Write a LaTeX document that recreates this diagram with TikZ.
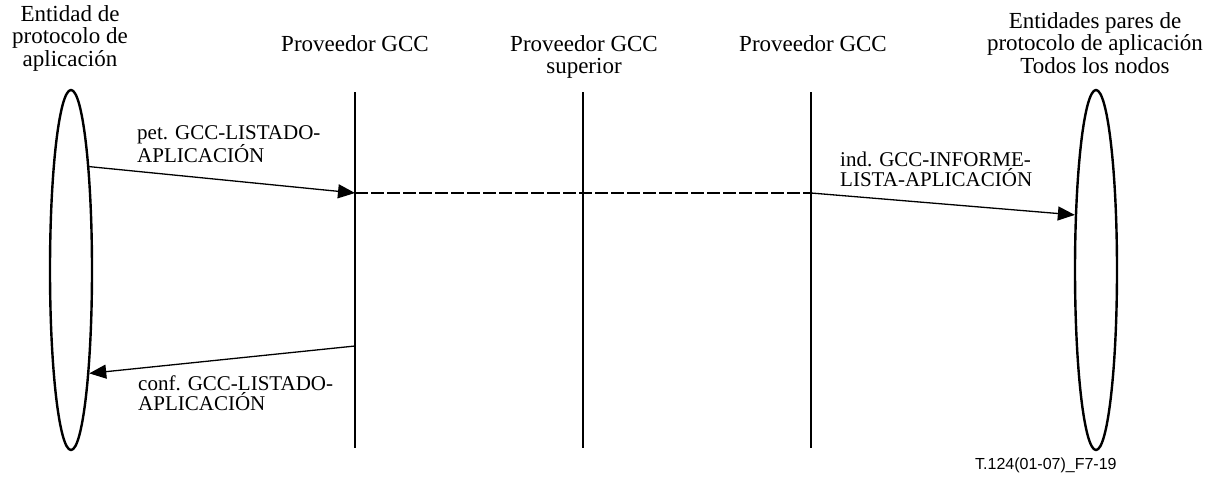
\documentclass[tikz,border=0pt]{standalone}
\usepackage{fontspec}
\setmainfont{Liberation Serif}
\newfontfamily\arialfont{Liberation Sans}
\usetikzlibrary{shapes.geometric,arrows.meta}
\begin{document}
\begin{tikzpicture}[x=1pt,y=-1pt,
  head/.style={font=\fontsize{23}{22.5}\selectfont, align=center, inner sep=0pt},
  msg/.style={font=\fontsize{21}{19.5}\selectfont, align=left, inner sep=0pt},
  entity/.style={ellipse, draw, line width=2.4pt, minimum width=42pt, minimum height=360pt, inner sep=0pt},
  lifeline/.style={line width=1.9pt},
  call/.style={line width=1.3pt, -{Triangle[length=17pt,width=14pt]}},
  relay/.style={line width=2.2pt, dash pattern=on 12.5pt off 3.5pt},
]
\useasboundingbox (0,0) rectangle (1211,480);

% entities at both ends
\node[entity] (src) at (71,270) {};
\node[entity] (dst) at (1096,270) {};

% headings
\node[head, anchor=north] (hsrc) at (70,5) {Entidad de\\protocolo de\\aplicación};
\node[head, anchor=north] (hp1) at (355,35) {Proveedor GCC};
\node[head, anchor=north] (hsup) at (584,35) {Proveedor GCC\\superior};
\node[head, anchor=north] (hp2) at (813,35) {Proveedor GCC};
\node[head, anchor=north] (hdst) at (1095,12) {Entidades pares de\\protocolo de aplicación\\Todos los nodos};

% provider lifelines
\coordinate (p1t) at (355,92);  \coordinate (p1b) at (355,448);
\coordinate (sut) at (583,92);  \coordinate (sub) at (583,448);
\coordinate (p2t) at (811,92);  \coordinate (p2b) at (811,448);
\draw[lifeline] (p1t) -- (p1b);
\draw[lifeline] (sut) -- (sub);
\draw[lifeline] (p2t) -- (p2b);

% message points on the lifelines
\coordinate (req) at (355,193);
\coordinate (ind) at (811,193);
\coordinate (cnf) at (355,346);

% primitives
\draw[call] (src.80.4) -- (req);
\draw[relay] (req) -- (ind);
\draw[call] (ind) -- (dst.111.1);
\draw[call] (cnf) -- (src.-80.5);

% primitive names
\node[msg, anchor=north west] (lreq) at (137,125) {pet. GCC-LISTADO-\\APLICACIÓN};
\node[msg, anchor=north west] (lind) at (840,152) {ind. GCC-INFORME-\\LISTA-APLICACIÓN};
\node[msg, anchor=north west] (lcnf) at (138,376) {conf. GCC-LISTADO-\\APLICACIÓN};

% figure reference
\node[font=\arialfont\fontsize{16}{16}\selectfont, anchor=north west, inner sep=0pt] (ref) at (975,458) {T.124(01-07)\_F7-19};
\end{tikzpicture}
\end{document}
